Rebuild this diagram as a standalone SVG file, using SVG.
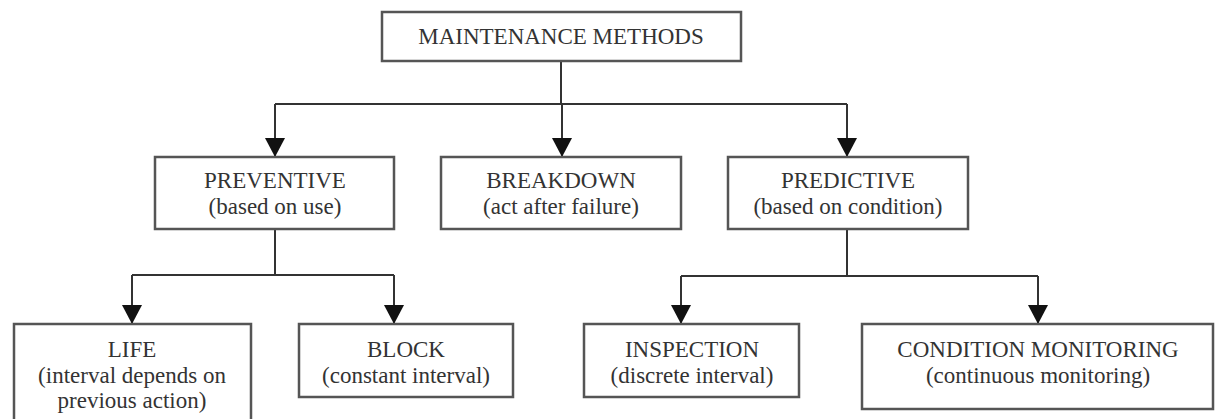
<svg xmlns="http://www.w3.org/2000/svg" width="1215" height="419" viewBox="0 0 1215 419">
<style>
.box{fill:#fff;stroke:#555;stroke-width:2.5}
.t{font-family:"Liberation Serif","Times New Roman",serif;font-size:23px;fill:#333;text-anchor:middle}
.ln{fill:none;stroke:#333;stroke-width:2}
</style>
<defs>
<marker id="ah" markerWidth="19" markerHeight="20" refX="18" refY="10" orient="auto" markerUnits="userSpaceOnUse" viewBox="0 0 19 20">
<path d="M0,0 L19,10 L0,20 Z" fill="#111"/>
</marker>
</defs>
<rect width="1215" height="419" fill="#fff"/>
<g id="connectors">
<path class="ln" d="M561,61 V104"/>
<path class="ln" d="M275,104 H847"/>
<path class="ln" d="M275,104 V156" marker-end="url(#ah)"/>
<path class="ln" d="M562,104 V156" marker-end="url(#ah)"/>
<path class="ln" d="M847,104 V156" marker-end="url(#ah)"/>
<path class="ln" d="M275,229 V275"/>
<path class="ln" d="M132,275 H394"/>
<path class="ln" d="M132,275 V323" marker-end="url(#ah)"/>
<path class="ln" d="M394,275 V323" marker-end="url(#ah)"/>
<path class="ln" d="M847,229 V276"/>
<path class="ln" d="M681,276 H1038"/>
<path class="ln" d="M681,276 V323" marker-end="url(#ah)"/>
<path class="ln" d="M1038,276 V323" marker-end="url(#ah)"/>
</g>
<g id="maintenance-methods">
<rect class="box" x="382" y="12" width="359" height="49"/>
<text class="t" x="561" y="44">MAINTENANCE METHODS</text>
</g>
<g id="preventive">
<rect class="box" x="155" y="157" width="239" height="72"/>
<text class="t" x="275" y="188">PREVENTIVE</text>
<text class="t" x="275" y="214">(based on use)</text>
</g>
<g id="breakdown">
<rect class="box" x="441" y="157" width="240" height="72"/>
<text class="t" x="561" y="188">BREAKDOWN</text>
<text class="t" x="561" y="214">(act after failure)</text>
</g>
<g id="predictive">
<rect class="box" x="728" y="157" width="240" height="72"/>
<text class="t" x="848" y="188">PREDICTIVE</text>
<text class="t" x="848" y="214">(based on condition)</text>
</g>
<g id="life">
<path class="box" d="M14,421 V324 H251 V421"/>
<text class="t" x="132" y="357">LIFE</text>
<text class="t" x="132" y="383">(interval depends on</text>
<text class="t" x="132" y="408">previous action)</text>
</g>
<g id="block">
<rect class="box" x="299" y="324" width="214" height="73"/>
<text class="t" x="406" y="357">BLOCK</text>
<text class="t" x="406" y="383">(constant interval)</text>
</g>
<g id="inspection">
<rect class="box" x="584" y="324" width="215" height="73"/>
<text class="t" x="692" y="357">INSPECTION</text>
<text class="t" x="692" y="383">(discrete interval)</text>
</g>
<g id="condition-monitoring">
<rect class="box" x="862" y="324" width="351" height="85"/>
<text class="t" x="1038" y="357">CONDITION MONITORING</text>
<text class="t" x="1038" y="383">(continuous monitoring)</text>
</g>
</svg>
